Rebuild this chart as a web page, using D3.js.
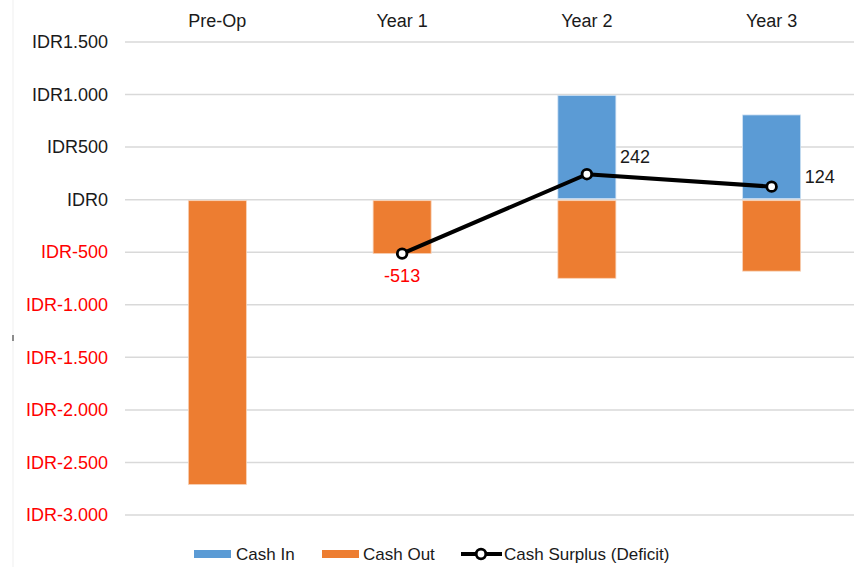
<!DOCTYPE html>
<html>
<head>
<meta charset="utf-8">
<script src="https://cdn.jsdelivr.net/npm/d3@7/dist/d3.min.js"></script>
<style>
  html, body { margin: 0; padding: 0; background: #fff; }
  svg { display: block; font-family: "Liberation Sans", Arial, sans-serif; }
</style>
</head>
<body>
<svg id="chart" width="854" height="567"></svg>
<script>
const categories = ["Pre-Op", "Year 1", "Year 2", "Year 3"];
const cashIn = [0, 0, 992, 806];
const cashOut = [-2710, -513, -748, -680];
const surplus = [null, -513, 242, 124];
const yTicks = [1500, 1000, 500, 0, -500, -1000, -1500, -2000, -2500, -3000];
const seriesNames = ["Cash In", "Cash Out", "Cash Surplus (Deficit)"];

const W = 854, H = 567;
const svg = d3.select("#chart");

const x = d3.scaleBand().domain(categories).range([125, 864]).padding(0);
const y = d3.scaleLinear().domain([-3000, 1500]).range([515, 42]);
const barW = x.bandwidth() * 0.314;
const cx = c => x(c) + x.bandwidth() / 2;

const locale = d3.formatLocale({decimal: ",", thousands: ".", grouping: [3], currency: ["IDR", ""], minus: "-"});
const fmt = locale.format(",d");

// faint left border line
svg.append("line").attr("x1", 13).attr("x2", 13).attr("y1", 0).attr("y2", H)
  .attr("stroke", "#efefef").attr("stroke-width", 1);
svg.append("rect").attr("x", 12).attr("y", 335).attr("width", 2).attr("height", 6).attr("fill", "#8c8c8c");

// gridlines
svg.append("g").selectAll("line").data(yTicks).join("line")
  .attr("x1", 125).attr("x2", W)
  .attr("y1", d => y(d)).attr("y2", d => y(d))
  .attr("stroke", "#d9d9d9").attr("stroke-width", 1.5);

// y axis
const yAxis = d3.axisLeft(y).tickValues(yTicks).tickSize(0).tickPadding(0)
  .tickFormat(d => "IDR" + fmt(d));
const gy = svg.append("g").attr("transform", "translate(108,0)").call(yAxis);
gy.select(".domain").remove();
gy.selectAll("text")
  .attr("font-size", "18px")
  .attr("font-family", "Liberation Sans, Arial, sans-serif")
  .attr("fill", d => d < 0 ? "#ff0000" : "#1a1a1a");

// top category axis
const xAxis = d3.axisTop(x).tickSize(0).tickPadding(0);
const gx = svg.append("g").attr("transform", "translate(0,27)").call(xAxis);
gx.select(".domain").remove();
gx.selectAll("text")
  .attr("font-size", "18px")
  .attr("font-family", "Liberation Sans, Arial, sans-serif")
  .attr("fill", "#1a1a1a");

// bars
const inData = categories.map((c, i) => ({c, v: cashIn[i]})).filter(d => d.v !== 0);
const outData = categories.map((c, i) => ({c, v: cashOut[i]}));
svg.append("g").selectAll("rect").data(inData).join("rect")
  .attr("x", d => cx(d.c) - barW / 2).attr("width", barW)
  .attr("y", d => y(d.v)).attr("height", d => y(0) - y(d.v) - 1)
  .attr("fill", "#5b9bd5").attr("stroke", "#cfe1f3").attr("stroke-width", 0.8);
svg.append("g").selectAll("rect").data(outData).join("rect")
  .attr("x", d => cx(d.c) - barW / 2).attr("width", barW)
  .attr("y", d => y(0) + 1).attr("height", d => y(d.v) - y(0) - 1)
  .attr("fill", "#ed7d31").attr("stroke", "#f8d2b8").attr("stroke-width", 0.8);

// line
const lineData = categories.map((c, i) => ({c, v: surplus[i]})).filter(d => d.v !== null);
const line = d3.line().x(d => cx(d.c)).y(d => y(d.v));
svg.append("path").datum(lineData).attr("d", line)
  .attr("fill", "none").attr("stroke", "#000").attr("stroke-width", 4).attr("stroke-linejoin", "round");
svg.append("g").selectAll("circle").data(lineData).join("circle")
  .attr("cx", d => cx(d.c)).attr("cy", d => y(d.v)).attr("r", 4.8)
  .attr("fill", "#fff").attr("stroke", "#000").attr("stroke-width", 2.8);

// data labels
const labelDy = {"Year 1": 28, "Year 2": -11, "Year 3": -4};
svg.append("g").selectAll("text").data(lineData).join("text")
  .attr("x", d => d.v < 0 ? cx(d.c) : cx(d.c) + 33)
  .attr("y", d => y(d.v) + labelDy[d.c])
  .attr("text-anchor", d => d.v < 0 ? "middle" : "start")
  .attr("font-size", "18px")
  .attr("fill", d => d.v < 0 ? "#ff0000" : "#1a1a1a")
  .text(d => fmt(d.v));

// legend
const lg = svg.append("g").attr("font-size", "17px").attr("fill", "#1a1a1a");
const ly = 554;
lg.append("rect").attr("x", 194).attr("y", ly - 4).attr("width", 37).attr("height", 8).attr("fill", "#5b9bd5");
lg.append("text").attr("x", 236).attr("y", ly + 6).text(seriesNames[0]);
lg.append("rect").attr("x", 322).attr("y", ly - 4).attr("width", 37).attr("height", 8).attr("fill", "#ed7d31");
lg.append("text").attr("x", 363).attr("y", ly + 6).text(seriesNames[1]);
lg.append("line").attr("x1", 461).attr("x2", 502).attr("y1", ly).attr("y2", ly)
  .attr("stroke", "#000").attr("stroke-width", 4);
lg.append("circle").attr("cx", 481).attr("cy", ly).attr("r", 4.8)
  .attr("fill", "#fff").attr("stroke", "#000").attr("stroke-width", 2.8);
lg.append("text").attr("x", 504).attr("y", ly + 6).text(seriesNames[2]);
</script>
</body>
</html>
